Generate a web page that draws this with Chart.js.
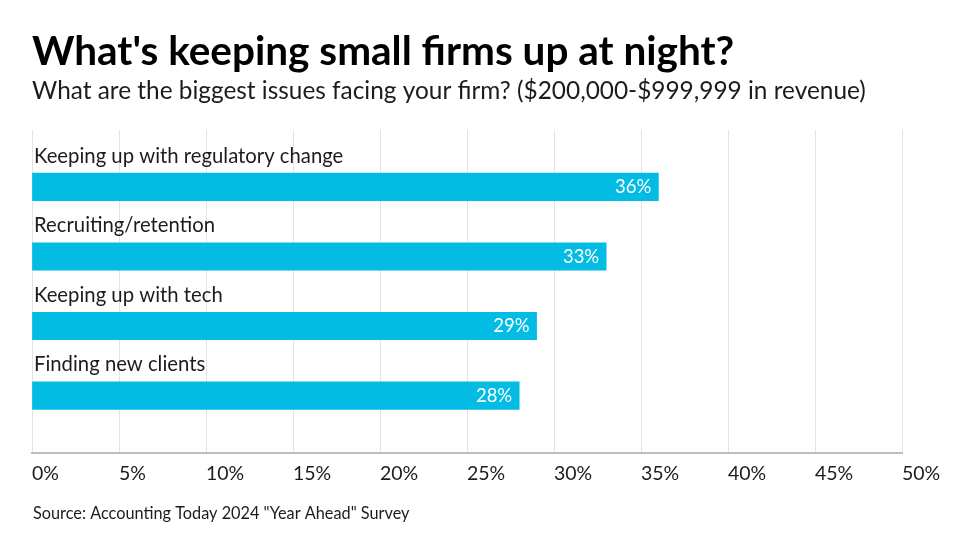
<!DOCTYPE html>
<html>
<head>
<meta charset="utf-8">
<script src="https://cdn.jsdelivr.net/npm/chart.js@4.4.1/dist/chart.umd.min.js"></script>
<style>
  html, body { margin: 0; padding: 0; background: #ffffff; }
  #wrap { width: 978px; height: 550px; }
</style>
</head>
<body>
<div id="wrap"><canvas id="c" width="978" height="550"></canvas></div>
<script>
const titleText = "What's keeping small firms up at night?";
const subtitleText = "What are the biggest issues facing your firm? ($200,000-$999,999 in revenue)";
const sourceText = 'Source: Accounting Today 2024 "Year Ahead" Survey';
const categories = ["Keeping up with regulatory change", "Recruiting/retention", "Keeping up with tech", "Finding new clients"];
const values = [36, 33, 29, 28];
const tickValues = [0, 5, 10, 15, 20, 25, 30, 35, 40, 45, 50];

const FONT = "Lato, 'Noto Sans', sans-serif";
const TEXT = '#1c1c1c';
const BAR = '#02bce4';
const Y_MIN = -0.82, Y_MAX = 3.82;

const labelPlugin = {
  id: 'labels',
  afterDatasetsDraw(chart) {
    const ctx = chart.ctx;
    const meta = chart.getDatasetMeta(0);
    ctx.save();
    meta.data.forEach((bar, i) => {
      const top = bar.y - bar.height / 2;
      ctx.font = '20.3px ' + FONT;
      ctx.fillStyle = TEXT;
      ctx.textAlign = 'left';
      ctx.textBaseline = 'alphabetic';
      ctx.fillText(categories[i], chart.chartArea.left + 2, top - 10.5);
      ctx.font = '18.5px ' + FONT;
      ctx.fillStyle = '#ffffff';
      ctx.textAlign = 'right';
      ctx.textBaseline = 'middle';
      ctx.fillText(values[i] + '%', bar.x - 7, bar.y + 0.5);
    });
    ctx.restore();
  },
  afterDraw(chart) {
    const ctx = chart.ctx;
    ctx.save();
    ctx.font = '16.3px ' + FONT;
    ctx.fillStyle = TEXT;
    ctx.textAlign = 'left';
    ctx.textBaseline = 'alphabetic';
    ctx.fillText(sourceText, chart.chartArea.left + 1, 519);
    ctx.restore();
  }
};

new Chart(document.getElementById('c'), {
  type: 'bar',
  data: {
    datasets: [{
      data: values.map((v, i) => ({ x: v, y: i })),
      backgroundColor: BAR,
      borderWidth: 0,
      barThickness: 27.5
    }]
  },
  options: {
    indexAxis: 'y',
    responsive: false,
    animation: false,
    devicePixelRatio: 1,
    layout: { padding: { left: 32, right: 76, top: 0, bottom: 56 } },
    plugins: {
      legend: { display: false },
      tooltip: { enabled: false },
      title: {
        display: true,
        text: titleText,
        align: 'start',
        color: '#000000',
        font: { family: FONT, size: 40.5, weight: 'bold' },
        padding: { top: 28, bottom: 0 }
      },
      subtitle: {
        display: true,
        text: subtitleText,
        align: 'start',
        color: TEXT,
        font: { family: FONT, size: 24.4 },
        padding: { top: 0, bottom: 24 }
      }
    },
    scales: {
      x: {
        type: 'linear',
        min: 0,
        max: 50,
        afterBuildTicks(scale) { scale.ticks = tickValues.map(v => ({ value: v })); },
        grid: { color: '#e3e3e3', lineWidth: 1, drawTicks: false },
        border: { color: '#bdbdbd', width: 2 },
        ticks: {
          align: 'start',
          padding: 9,
          color: TEXT,
          font: { family: FONT, size: 19.5 },
          maxRotation: 0,
          callback: v => v + '%'
        }
      },
      y: {
        type: 'linear',
        display: false,
        reverse: true,
        offset: false,
        grid: { offset: false },
        bounds: 'data',
        min: Y_MIN,
        max: Y_MAX,
        afterBuildTicks(scale) { scale.min = Y_MIN; scale.max = Y_MAX; }
      }
    }
  },
  plugins: [labelPlugin]
});
</script>
</body>
</html>
